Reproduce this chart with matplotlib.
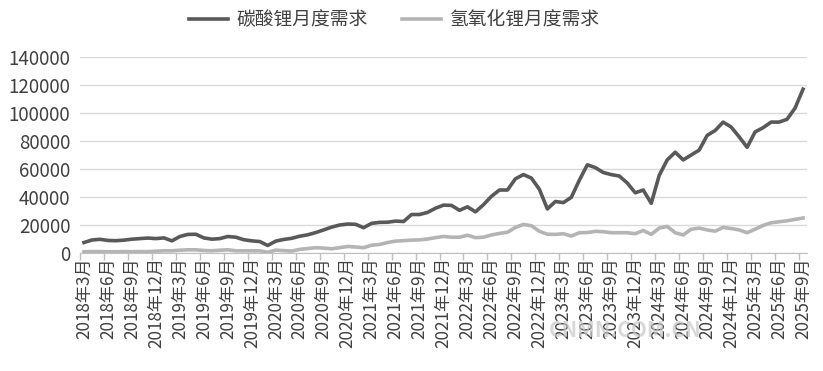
"""碳酸锂 / 氢氧化锂 月度需求折线图"""

import matplotlib
matplotlib.use("Agg")
import matplotlib.pyplot as plt
from matplotlib.ticker import FixedLocator

plt.rcParams['font.family'] = ['Noto Sans CJK SC', 'DejaVu Sans']

# 月份: 2018年3月 ~ 2025年9月
months = []
for y in range(2018, 2026):
    for m in range(1, 13):
        if (y == 2018 and m < 3) or (y == 2025 and m > 9):
            continue
        months.append(f"{y}年{m}月")

# 碳酸锂月度需求
carbonate = [
    7500, 9300, 9800, 9000, 8800, 9200, 9900, 10300, 10700, 10300,
    10800, 8700, 11800, 13300, 13400, 10800, 9900, 10300, 11800, 11300,
    9500, 8700, 8200, 5400, 8500, 9700, 10500, 12000, 13000, 14600,
    16500, 18500, 20000, 20700, 20500, 18100, 21200, 21900, 22000, 22800,
    22500, 27500, 27500, 29000, 32000, 34200, 34000, 30500, 33000, 29400,
    34500, 40500, 45000, 45000, 53000, 56000, 53500, 45500, 31500, 36800,
    36000, 39800, 52000, 63000, 61000, 57500, 56000, 55000, 50000, 43000,
    45000, 35500, 55500, 66500, 72000, 66500, 70000, 73500, 84000, 87500,
    93500, 90000, 83000, 75500, 86500, 89500, 93500, 93500, 95500, 103500,
    117000,
]

# 氢氧化锂月度需求
hydroxide = [
    900, 1000, 1000, 900, 900, 1000, 900, 1000, 1000, 1300,
    1600, 1600, 2000, 2300, 2300, 1800, 1600, 2000, 2300, 1600,
    1600, 1600, 1600, 500, 2100, 1700, 1400, 2600, 3200, 3800,
    3500, 3000, 3800, 4700, 4300, 3800, 5600, 6100, 7500, 8500,
    8800, 9200, 9400, 10000, 11000, 11800, 11300, 11300, 12700, 11000,
    11300, 12900, 14000, 14800, 18300, 20400, 19500, 15500, 13400, 13300,
    13800, 12100, 14500, 14600, 15500, 15200, 14500, 14500, 14500, 13800,
    16100, 13300, 17800, 19000, 14500, 12900, 17000, 17800, 16500, 15600,
    18300, 17500, 16500, 14500, 17000, 19700, 21600, 22300, 23000, 24000,
    25000,
]

yticks = [0, 20000, 40000, 60000, 80000, 100000, 120000, 140000]

fig = plt.figure(figsize=(8.23, 3.71), dpi=100)
ax = fig.add_axes([0.0972, 0.318, 0.8834, 0.5284])

x = list(range(len(months)))
ax.plot(x, carbonate, color='#595959', linewidth=2.6, label='碳酸锂月度需求',
        solid_joinstyle='round')
ax.plot(x, hydroxide, color='#b4b4b4', linewidth=2.6, label='氢氧化锂月度需求',
        solid_joinstyle='round')

ax.set_xlim(-0.5, len(months) - 0.5)
ax.set_ylim(0, 140000)
ax.set_yticks(yticks)
ax.yaxis.grid(True, color='#d9d9d9', linewidth=1)
ax.set_axisbelow(True)

# 刻度: 每3个月一个标签
lab_pos = x[::3]
ax.xaxis.set_major_locator(FixedLocator(lab_pos))
ax.set_xticklabels(months[::3], rotation=90, fontsize=12.3, color='#404040')
ax.xaxis.set_minor_locator(FixedLocator([p - 0.5 for p in lab_pos]))
ax.tick_params(axis='x', which='major', length=0, pad=3)
ax.tick_params(axis='x', which='minor', length=5, color='#bfbfbf', width=1)
ax.tick_params(axis='y', length=0, labelsize=13.5, labelcolor='#404040', pad=7)

for s in ['left', 'right', 'top']:
    ax.spines[s].set_visible(False)
ax.spines['bottom'].set_color('#bfbfbf')

fig.legend(loc='upper center', bbox_to_anchor=(0.479, 1.02), ncol=2,
           frameon=False, fontsize=13.5, handlelength=2.1, handletextpad=0.45,
           columnspacing=1.8, labelcolor='#404040')

# 水印
fig.text(0.76, 0.11, 'CNMN.COM.CN', fontsize=15, color='#c8c8c8',
         alpha=0.7, ha='center', va='center', fontweight='bold')

fig.savefig('out.png', dpi=100)
